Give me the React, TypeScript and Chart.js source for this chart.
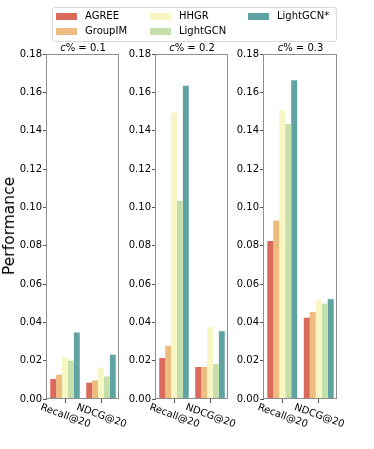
import React, { useEffect, useRef } from "react";
import { Chart, registerables } from "chart.js";

Chart.register(...registerables);

const categories = ["Recall@20", "NDCG@20"];
const methods = ["AGREE", "GroupIM", "HHGR", "LightGCN", "LightGCN*"];
const colors = ["#da6a5c", "#efbc7f", "#f7f6c3", "#c5dfaa", "#5fa3a2"];
const panelTitles = ["0.1", "0.2", "0.3"];

// values per method, one [Recall@20, NDCG@20] pair per panel (c% = 0.1, 0.2, 0.3)
const agree = [[0.0104, 0.0085], [0.0214, 0.0167], [0.0825, 0.0424]];
const groupIM = [[0.0127, 0.0097], [0.0278, 0.0167], [0.0931, 0.0454]];
const hhgr = [[0.0219, 0.0163], [0.1494, 0.0375], [0.1507, 0.0514]];
const lightGCN = [[0.0200, 0.0118], [0.1035, 0.0182], [0.1435, 0.0498]];
const lightGCNStar = [[0.0347, 0.0231], [0.1635, 0.0354], [0.1663, 0.0521]];
const seriesByMethod = [agree, groupIM, hhgr, lightGCN, lightGCNStar];

const yMin = 0;
const yMax = 0.18;
const yStep = 0.02;

const W = 374;
const H = 449;
const FONT = "'DejaVu Sans', sans-serif";
const panelBoxes = [
  { left: 47, right: 119 },
  { left: 156, right: 228 },
  { left: 264, right: 337 },
];
const plotTop = 54;
const plotBottom = 399;
const yAxisW = 47;
const xAxisH = 4;

const framePlugin = {
  id: "frame",
  afterDraw(chart: any) {
    const { ctx, chartArea: a } = chart;
    ctx.save();
    ctx.strokeStyle = "#8e8e8e";
    ctx.lineWidth = 1;
    ctx.strokeRect(a.left - 0.5, a.top + 0.5, a.right - a.left, a.bottom - a.top - 1);
    ctx.restore();
  },
};

const xLabelPlugin = {
  id: "xlabels",
  afterDraw(chart: any) {
    const { ctx, chartArea: a } = chart;
    const xs = chart.scales.x;
    ctx.save();
    ctx.font = `10px ${FONT}`;
    ctx.fillStyle = "#000";
    ctx.textAlign = "center";
    ctx.textBaseline = "middle";
    categories.forEach((c, i) => {
      const x = xs.getPixelForValue(i);
      ctx.save();
      ctx.translate(x + 0.5, a.bottom + 17);
      ctx.rotate((20 * Math.PI) / 180);
      ctx.fillText(c, 0, 0);
      ctx.restore();
    });
    ctx.restore();
  },
};

function Panel({ index }: { index: number }) {
  const ref = useRef<HTMLCanvasElement>(null);
  useEffect(() => {
    if (!ref.current) return;
    const box = panelBoxes[index];
    const chart = new Chart(ref.current, {
      type: "bar",
      data: {
        labels: categories,
        datasets: methods.map((m, k) => ({
          label: m,
          data: seriesByMethod[k][index],
          backgroundColor: colors[k],
          borderWidth: 0,
          categoryPercentage: 0.82,
          barPercentage: 1.0,
        })),
      },
      options: {
        animation: false,
        responsive: false,
        events: [],
        layout: {
          autoPadding: false,
          padding: {
            left: box.left - yAxisW,
            right: W - box.right,
            top: plotTop,
            bottom: H - plotBottom - xAxisH,
          },
        },
        plugins: {
          legend: { display: false },
          title: { display: false },
          tooltip: { enabled: false },
        },
        scales: {
          x: {
            type: "category",
            offset: true,
            border: { display: false },
            grid: {
              offset: false,
              drawOnChartArea: false,
              drawTicks: true,
              tickLength: 4,
              color: "#555",
            },
            ticks: { display: false },
            afterFit: (s: any) => {
              s.height = xAxisH;
            },
          },
          y: {
            type: "linear",
            min: yMin,
            max: yMax,
            border: { display: false },
            grid: {
              drawOnChartArea: false,
              drawTicks: true,
              tickLength: 4,
              color: "#555",
            },
            ticks: {
              stepSize: yStep,
              color: "#000",
              padding: 1,
              font: { family: FONT, size: 10 },
              callback: (v: any) => Number(v).toFixed(2),
            },
            afterFit: (s: any) => {
              s.width = yAxisW;
            },
          },
        },
      },
      plugins: [framePlugin, xLabelPlugin],
    });
    return () => chart.destroy();
  }, [index]);
  return (
    <canvas
      ref={ref}
      width={W}
      height={H}
      style={{ position: "absolute", left: 0, top: 0, width: W, height: H }}
    />
  );
}

const legendPos = [
  { x: 56, y: 16 },
  { x: 56, y: 31 },
  { x: 150, y: 16 },
  { x: 150, y: 31 },
  { x: 248, y: 16 },
];

export default function App() {
  return (
    <div
      style={{
        position: "absolute",
        left: 0,
        top: 0,
        width: W,
        height: H,
        background: "#fff",
        fontFamily: FONT,
        color: "#000",
      }}
    >
      {[0, 1, 2].map((i) => (
        <Panel key={i} index={i} />
      ))}
      {panelTitles.map((t, i) => {
        const b = panelBoxes[i];
        return (
          <div
            key={t}
            style={{
              position: "absolute",
              left: b.left,
              width: b.right - b.left,
              top: 42,
              fontSize: 10,
              lineHeight: "12px",
              textAlign: "center",
              whiteSpace: "nowrap",
            }}
          >
            <i>c</i>% = {t}
          </div>
        );
      })}
      <div
        style={{
          position: "absolute",
          left: 9,
          top: 226,
          fontSize: 15.5,
          lineHeight: "18px",
          whiteSpace: "nowrap",
          transform: "translate(-50%, -50%) rotate(-90deg)",
        }}
      >
        Performance
      </div>
      <div
        style={{
          position: "absolute",
          left: 52,
          top: 7,
          width: 283,
          height: 33,
          border: "1px solid #d8d8d8",
          borderRadius: 3,
          background: "rgba(255,255,255,0.8)",
        }}
      />
      {methods.map((m, k) => {
        const p = legendPos[k];
        return (
          <React.Fragment key={m}>
            <div
              style={{
                position: "absolute",
                left: p.x,
                top: p.y - 3.5,
                width: 21,
                height: 7,
                background: colors[k],
              }}
            />
            <div
              style={{
                position: "absolute",
                left: p.x + 29,
                top: p.y - 6,
                fontSize: 10,
                lineHeight: "12px",
                whiteSpace: "nowrap",
              }}
            >
              {m}
            </div>
          </React.Fragment>
        );
      })}
    </div>
  );
}
